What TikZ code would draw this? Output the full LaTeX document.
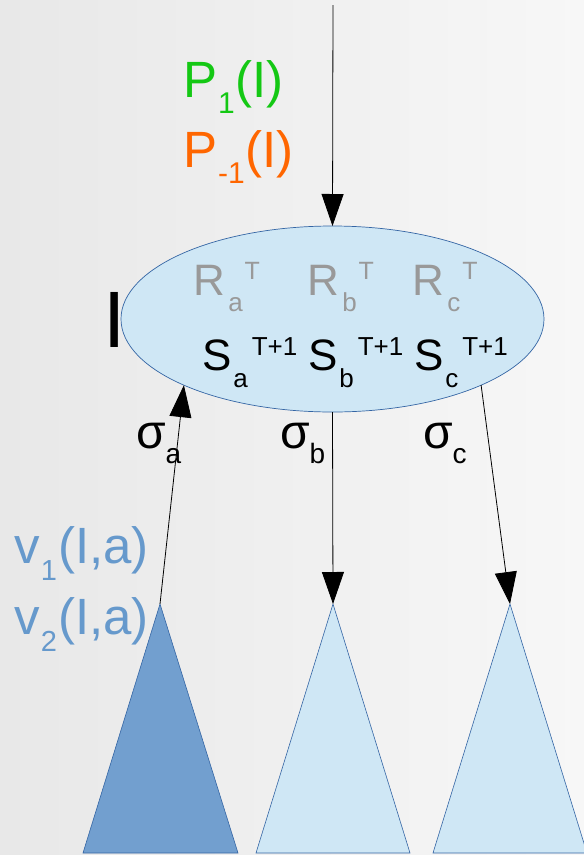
\documentclass[tikz,border=0pt]{standalone}
\usepackage{fontspec}
\setmainfont{Liberation Sans}
\usetikzlibrary{arrows.meta,shapes.geometric}
\definecolor{bgL}{RGB}{232,232,232}
\definecolor{bgR}{RGB}{247,247,247}
\definecolor{darkfill}{HTML}{729FCF}
\definecolor{lightfill}{HTML}{CFE7F5}
\definecolor{edgeblue}{HTML}{3465A4}
\definecolor{pgreen}{RGB}{20,200,20}
\definecolor{porange}{HTML}{FF6600}
\definecolor{rgray}{HTML}{999999}
\definecolor{vblue}{HTML}{6699CC}
\newcommand\mysub[3]{\raisebox{-#1pt}{\fontsize{#2}{#2}\selectfont #3}}
\newcommand\mysup[3]{\raisebox{#1pt}{\fontsize{#2}{#2}\selectfont #3}}
\tikzset{
  arr/.style={-{Triangle[length=32pt,width=22pt]}, line width=0.8pt, black},
  tri/.style={draw=edgeblue, line width=0.6pt},
  lbl/.style={anchor=base west, inner sep=0pt, outer sep=0pt},
}
\begin{document}
\begin{tikzpicture}[x=1pt,y=-1pt]
\useasboundingbox (0,0) rectangle (584,855);
\shade[left color=bgL, right color=bgR] (0,0) rectangle (584,855);

% subtrees
\coordinate (ta) at (160,604);
\coordinate (tb) at (333,604);
\coordinate (tc) at (510,604);
\draw[tri, fill=darkfill] (ta) -- (83,853) -- (238,853) -- cycle;
\draw[tri, fill=lightfill] (tb) -- (256,853) -- (410,853) -- cycle;
\draw[tri, fill=lightfill] (tc) -- (433,853) -- (587,853) -- cycle;

% information set
\node[ellipse, draw=edgeblue, line width=0.7pt, fill=lightfill,
      minimum width=423pt, minimum height=186pt, inner sep=0pt, outer sep=0pt]
      (ell) at (332.5,319) {};

% connectors
\coordinate (top) at (333,5);
\draw[arr] (top) -- (ell.north);
\draw[arr] (ta) -- (ell.204.5);
\draw[arr] (ell.south) -- (tb);
\draw[arr] (ell.336.2) -- (tc);

% info set label
\node[lbl] (iname) at (103,347) {\fontsize{80}{80}\selectfont I};

% reach probabilities
\node[lbl, text=pgreen] (p1) at (183,97) {\fontsize{51}{51}\selectfont P\kern1pt\mysub{16}{30}{1}\kern1pt(I)};
\node[lbl, text=porange] (pm1) at (183,167) {\fontsize{51}{51}\selectfont P\kern1pt\mysub{16}{30}{-1}\kern1pt(I)};

% regrets
\node[lbl, text=rgray] (ra) at (193.5,295) {\fontsize{44}{44}\selectfont R\kern3pt\mysub{16}{26}{a}\kern2pt\mysup{16}{25}{T}};
\node[lbl, text=rgray] (rb) at (307.5,295) {\fontsize{44}{44}\selectfont R\kern3pt\mysub{16}{26}{b}\kern2pt\mysup{16}{25}{T}};
\node[lbl, text=rgray] (rc) at (412.5,295) {\fontsize{44}{44}\selectfont R\kern3pt\mysub{16}{26}{c}\kern2pt\mysup{16}{25}{T}};

% strategies
\node[lbl] (sa) at (202,370) {\fontsize{44}{44}\selectfont S\kern2pt\mysub{17}{26}{a}\kern4pt\mysup{15}{26}{T+1}};
\node[lbl] (sb) at (308,370) {\fontsize{44}{44}\selectfont S\kern2pt\mysub{17}{26}{b}\kern4pt\mysup{15}{26}{T+1}};
\node[lbl] (sc) at (414,370) {\fontsize{44}{44}\selectfont S\kern2pt\mysub{17}{26}{c}\kern4pt\mysup{15}{26}{T+1}};

% actions
\node[lbl] (siga) at (136,448) {\fontsize{48}{48}\selectfont σ\mysub{15}{28}{a}};
\node[lbl] (sigb) at (280,448) {\fontsize{48}{48}\selectfont σ\mysub{15}{28}{b}};
\node[lbl] (sigc) at (423,448) {\fontsize{48}{48}\selectfont σ\mysub{15}{28}{c}};

% values
\node[lbl, text=vblue] (v1) at (14.5,563) {\fontsize{51}{51}\selectfont v\kern1pt\mysub{17}{29}{1}\kern1pt(I,a)};
\node[lbl, text=vblue] (v2) at (14.5,634) {\fontsize{51}{51}\selectfont v\kern1pt\mysub{17}{29}{2}\kern1pt(I,a)};
\end{tikzpicture}
\end{document}
